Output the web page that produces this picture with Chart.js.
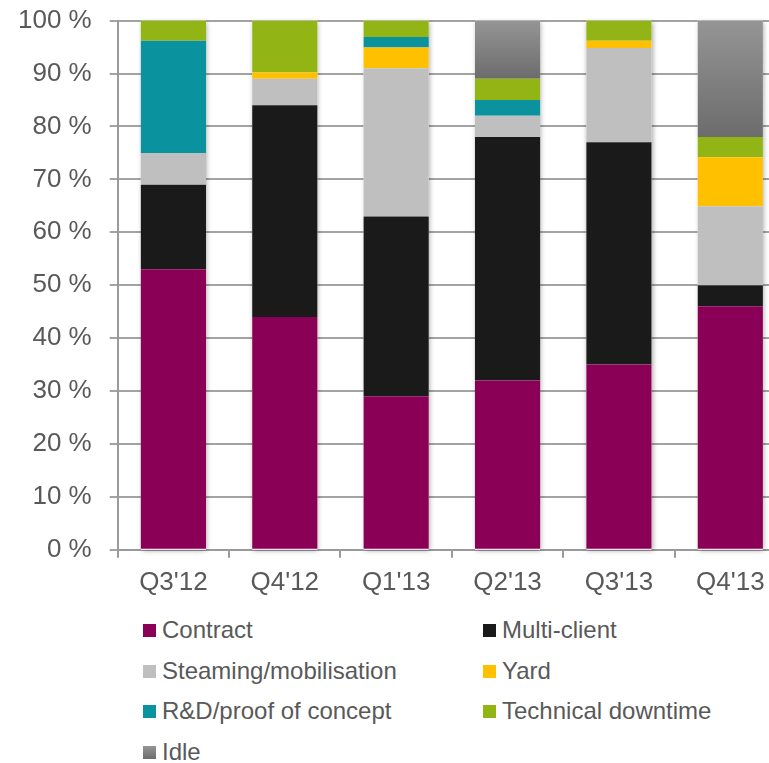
<!DOCTYPE html>
<html>
<head>
<meta charset="utf-8">
<script src="https://cdn.jsdelivr.net/npm/chart.js@4.4.1/dist/chart.umd.min.js"></script>
<style>
  html, body { margin: 0; padding: 0; background: #fff; overflow: hidden; }
  #wrap { position: absolute; left: 0; top: -13px; width: 786px; height: 620px; }
  #legend { position: absolute; left: 0; top: 0; width: 769px; font-family: "Liberation Sans", Arial, sans-serif; font-size: 24px; color: #595959; }
  .item { position: absolute; white-space: nowrap; line-height: 28px; }
  .item i { position: absolute; left: 0; top: 8px; width: 13px; height: 13px; }
  .item span { position: absolute; left: 19px; top: 0; }
</style>
</head>
<body>
<div id="wrap"><canvas id="chart"></canvas></div>
<div id="legend"></div>
<script>
// Vessel utilisation per quarter, share of time (%)
const quarters = ["Q3'12", "Q4'12", "Q1'13", "Q2'13", "Q3'13", "Q4'13"];
const yTicks = [0, 10, 20, 30, 40, 50, 60, 70, 80, 90, 100];

const contract    = [53, 44, 29, 32, 35, 46];
const multiClient = [16, 40, 34, 46, 42, 4];
const steaming    = [6, 5, 28, 4, 17.8, 14.9];
const yard        = [0, 1.2, 3.9, 0, 1.4, 9.3];
const rdConcept   = [21.2, 0, 2, 3, 0, 0];
const techDown    = [3.8, 9.8, 3.1, 4, 3.8, 3.8];
const idle        = [0, 0, 0, 11, 0, 22];

const series = [
  { label: "Contract", data: contract, color: "#8b0057" },
  { label: "Multi-client", data: multiClient, color: "#1a1a1a" },
  { label: "Steaming/mobilisation", data: steaming, color: "#bfbfbf" },
  { label: "Yard", data: yard, color: "#ffc000" },
  { label: "R&D/proof of concept", data: rdConcept, color: "#0a929e" },
  { label: "Technical downtime", data: techDown, color: "#92b515" },
  { label: "Idle", data: idle, color: "idle" }
];

// Idle segments fade from light grey at the top to darker grey at the bottom
function idleFill(ctx) {
  const chart = ctx.chart;
  const y = chart.scales.y;
  if (!y || ctx.dataIndex === undefined) return "#828282";
  let below = 0;
  for (let d = 0; d < ctx.datasetIndex; d++) below += series[d].data[ctx.dataIndex];
  const top = y.getPixelForValue(below + idle[ctx.dataIndex]);
  const bottom = y.getPixelForValue(below);
  if (!isFinite(top) || !isFinite(bottom) || top === bottom) return "#828282";
  const g = chart.ctx.createLinearGradient(0, top, 0, bottom);
  g.addColorStop(0, "#959595");
  g.addColorStop(1, "#6c6c6c");
  return g;
}

// soft shadow behind each full stack
const stackShadow = {
  id: "stackShadow",
  beforeDatasetsDraw(chart) {
    const ctx = chart.ctx;
    const meta = chart.getDatasetMeta(0);
    const y = chart.scales.y;
    ctx.save();
    ctx.shadowColor = "rgba(0,0,0,0.35)";
    ctx.shadowBlur = 5;
    ctx.shadowOffsetX = 1;
    ctx.shadowOffsetY = 1;
    ctx.fillStyle = "#ffffff";
    meta.data.forEach((bar, i) => {
      const total = series.reduce((s, ds) => s + ds.data[i], 0);
      const top = y.getPixelForValue(total);
      const bottom = y.getPixelForValue(0);
      ctx.fillRect(bar.x - bar.width / 2, top, bar.width, bottom - top);
    });
    ctx.restore();
  }
};

const font = { family: "'Liberation Sans', Arial, sans-serif", size: 26 };

new Chart(document.getElementById("chart"), {
  type: "bar",
  data: {
    labels: quarters,
    datasets: series.map(s => ({
      label: s.label,
      data: s.data,
      backgroundColor: s.color === "idle" ? idleFill : s.color,
      borderWidth: 0,
      barPercentage: 0.585,
      categoryPercentage: 1
    }))
  },
  options: {
    responsive: true,
    maintainAspectRatio: false,
    animation: false,
    layout: { padding: { top: 0, left: 0, right: 0, bottom: 0 } },
    plugins: { legend: { display: false }, tooltip: { enabled: false } },
    scales: {
      x: {
        stacked: true,
        grid: { display: true, drawOnChartArea: false, drawTicks: true, tickLength: 8, color: "#9a9a9a", lineWidth: 2, offset: true },
        border: { display: true, color: "#9a9a9a", width: 2 },
        ticks: { color: "#595959", font: font, padding: 9 }
      },
      y: {
        stacked: true,
        min: 0,
        max: 100,
        afterBuildTicks: axis => { axis.ticks = yTicks.map(v => ({ value: v })); },
        grid: { color: "#a3a3a3", lineWidth: 2, tickLength: 8 },
        border: { display: true, color: "#9a9a9a", width: 2 },
        ticks: { color: "#595959", font: font, padding: 18, callback: v => v + " %" }
      }
    }
  },
  plugins: [stackShadow]
});

// two-column legend under the chart
const legend = document.getElementById("legend");
series.forEach((s, i) => {
  const el = document.createElement("div");
  el.className = "item";
  el.style.left = (i % 2 === 0 ? 143 : 483) + "px";
  el.style.top = (616 + Math.floor(i / 2) * 40.5) + "px";
  const sw = document.createElement("i");
  sw.style.background = s.color === "idle" ? "linear-gradient(#959595, #6c6c6c)" : s.color;
  const tx = document.createElement("span");
  tx.textContent = s.label;
  el.appendChild(sw);
  el.appendChild(tx);
  legend.appendChild(el);
});
</script>
</body>
</html>
